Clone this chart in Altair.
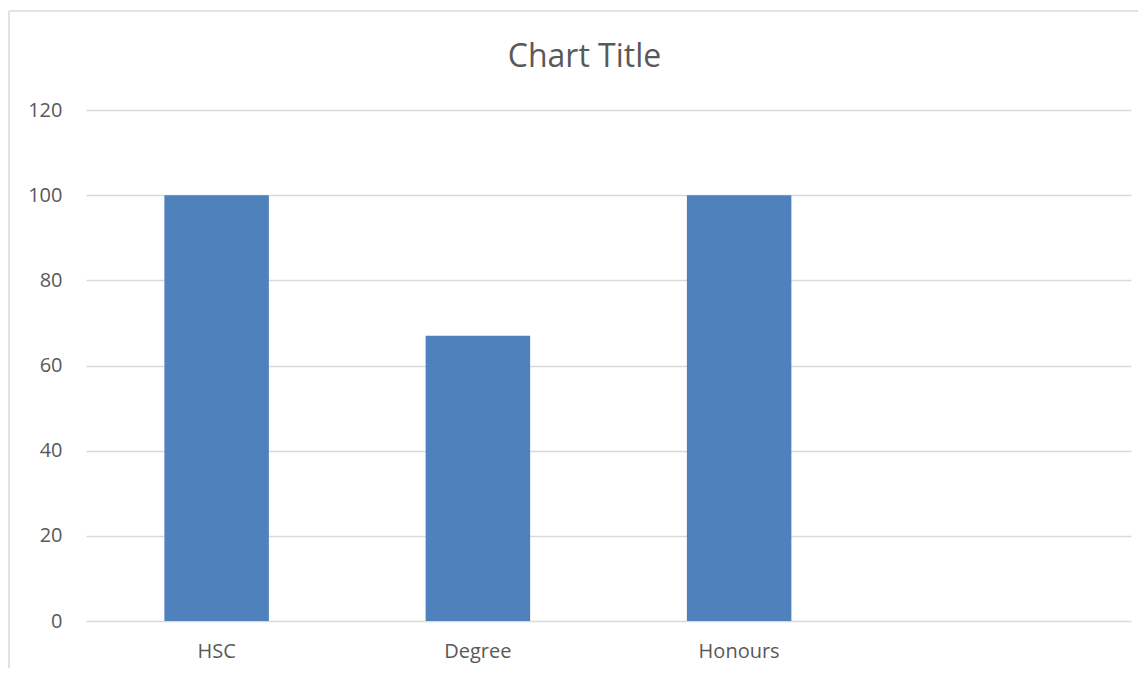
import altair as alt
import pandas as pd

categories = ["HSC", "Degree", "Honours"]
values = [100, 67, 100]
axis_domain = ["HSC", "Degree", "Honours", " "]
y_ticks = [0, 20, 40, 60, 80, 100, 120]
chart_title = "Chart Title"

df = pd.DataFrame({"cat": categories, "val": values})

FONT = "Open Sans"
GREY = "#595959"
LINE = "#d9d9d9"

bars = alt.Chart(df).mark_bar(color="#4f81bd").encode(
    x=alt.X(
        "cat:N",
        sort=axis_domain,
        scale=alt.Scale(domain=axis_domain, paddingInner=0.6, paddingOuter=0.3),
        axis=alt.Axis(
            title=None, labelAngle=0, ticks=False, domain=False,
            labelFont=FONT, labelFontSize=20, labelColor=GREY, labelPadding=20,
        ),
    ),
    y=alt.Y(
        "val:Q",
        scale=alt.Scale(domain=[0, 120], nice=False),
        axis=alt.Axis(
            title=None, values=y_ticks, ticks=False, domain=False,
            grid=True, gridColor=LINE, gridWidth=1.3,
            labelFont=FONT, labelFontSize=20, labelColor=GREY, labelPadding=24,
        ),
    ),
)

frame = alt.Data(values=[{"t": chart_title}])
left_border = alt.Chart(frame).mark_rule(color=LINE, strokeWidth=1.5).encode(
    x=alt.value(-77), y=alt.value(-99), y2=alt.value(560)
)
top_border = alt.Chart(frame).mark_rule(color=LINE, strokeWidth=1.5).encode(
    x=alt.value(-77), x2=alt.value(1054), y=alt.value(-99)
)
title = alt.Chart(frame).mark_text(
    font=FONT, fontSize=32, color=GREY, align="center", baseline="alphabetic"
).encode(text="t:N", x=alt.value(498.5), y=alt.value(-43))

chart = alt.layer(left_border, top_border, title, bars).properties(
    width=1045,
    height=511,
    autosize=alt.AutoSizeParams(type="none"),
    padding={"left": 78, "top": 102, "right": 7, "bottom": 47},
).configure(background="white").configure_view(stroke=None)

chart.save("out.html", embed_options={"renderer": "svg", "actions": False})
